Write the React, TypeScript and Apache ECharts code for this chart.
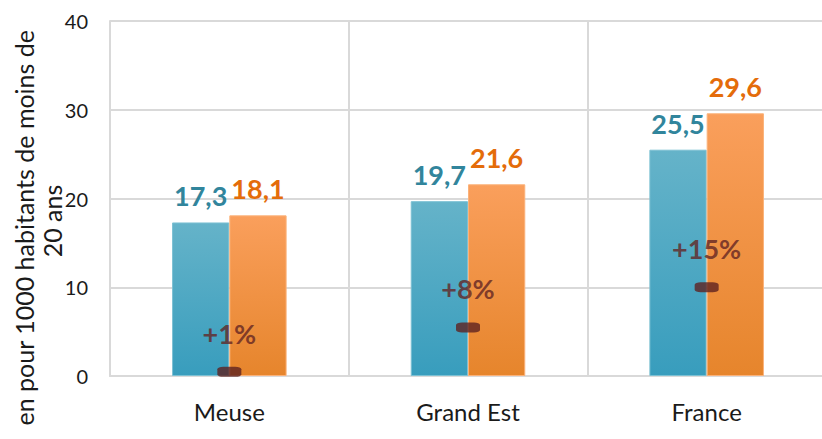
import React, { useEffect, useRef } from "react";
import * as echarts from "echarts";

const categories = ["Meuse", "Grand Est", "France"];
const seriesA = [17.3, 19.7, 25.5];
const seriesB = [18.1, 21.6, 29.6];
const growthPct = [0.7, 8.2, 15.0];
const yTitleLine1 = "en pour 1000 habitants de moins de";
const yTitleLine2 = "20 ans";

const FONT = "Lato, 'Open Sans', sans-serif";

export default function App() {
  const ref = useRef<HTMLDivElement>(null);
  useEffect(() => {
    if (!ref.current) return;
    const chart = echarts.init(ref.current, null, { renderer: "svg" });
    const fmt = (v: number) => v.toFixed(1).replace(".", ",");
    chart.setOption({
      animation: false,
      textStyle: { fontFamily: FONT },
      grid: { left: 110, right: 0, top: 21, bottom: 63 },
      xAxis: {
        type: "category",
        data: categories,
        axisLine: { show: true, lineStyle: { color: "#d9d9d9", width: 2 } },
        axisTick: { show: false },
        axisLabel: { fontSize: 24, color: "#1a1a1a", margin: 23, fontFamily: FONT },
        splitLine: { show: true, lineStyle: { color: "#d9d9d9", width: 2 } },
      },
      yAxis: [
        {
          type: "value",
          min: 0,
          max: 40,
          interval: 10,
          axisLine: { show: true, lineStyle: { color: "#d9d9d9", width: 2 } },
          axisTick: { show: false },
          axisLabel: { fontSize: 20, color: "#1a1a1a", margin: 22, fontFamily: FONT },
          splitLine: { show: true, lineStyle: { color: "#d9d9d9", width: 2 } },
        },
        {
          type: "value",
          min: 0,
          max: 60,
          show: false,
          splitLine: { show: false },
        },
      ],
      series: [
        {
          type: "bar",
          data: seriesA,
          barWidth: "24%",
          barGap: "0%",
          itemStyle: {
            color: new echarts.graphic.LinearGradient(0, 0, 0, 1, [
              { offset: 0, color: "#65b3c9" },
              { offset: 1, color: "#389dbd" },
            ]),
            borderColor: "#7cc0d3",
            borderWidth: 1,
          },
          label: {
            show: true,
            position: "top",
            distance: 13,
            fontSize: 27,
            fontWeight: "bold",
            color: "#31859c",
            fontFamily: FONT,
            formatter: (p: any) => fmt(p.value),
          },
        },
        {
          type: "bar",
          data: seriesB,
          barWidth: "24%",
          barGap: "0%",
          itemStyle: {
            color: new echarts.graphic.LinearGradient(0, 0, 0, 1, [
              { offset: 0, color: "#fa9f5c" },
              { offset: 1, color: "#e6852c" },
            ]),
            borderColor: "#fbb27a",
            borderWidth: 1,
          },
          label: {
            show: true,
            position: "top",
            distance: 13,
            fontSize: 27,
            fontWeight: "bold",
            color: "#e46c0a",
            fontFamily: FONT,
            formatter: (p: any) => fmt(p.value),
          },
        },
        {
          type: "scatter",
          yAxisIndex: 1,
          data: growthPct,
          symbol: "roundRect",
          symbolSize: [24, 10],
          itemStyle: { color: "#5e2220" },
          z: 5,
          label: {
            show: true,
            position: "top",
            distance: 20,
            fontSize: 27,
            fontWeight: "bold",
            color: "#632523",
            fontFamily: FONT,
            formatter: (p: any) => "+" + Math.round(p.value) + "%",
          },
        },
      ],
      graphic: [
        {
          type: "text",
          x: 24,
          y: 30,
          rotation: Math.PI / 2,
          style: {
            text: yTitleLine1,
            fontSize: 25,
            fontFamily: FONT,
            fill: "#1a1a1a",
            textAlign: "right",
            textVerticalAlign: "middle",
          },
        },
        {
          type: "text",
          x: 52,
          y: 221,
          rotation: Math.PI / 2,
          style: {
            text: yTitleLine2,
            fontSize: 25,
            fontFamily: FONT,
            fill: "#1a1a1a",
            textAlign: "center",
            textVerticalAlign: "middle",
          },
        },
      ],
    });
    return () => chart.dispose();
  }, []);
  return (
    <div style={{ position: "absolute", left: 0, top: 0, width: 822, height: 439, overflow: "hidden", background: "#fff" }}>
      <div ref={ref} style={{ width: 826, height: 439 }} />
    </div>
  );
}
